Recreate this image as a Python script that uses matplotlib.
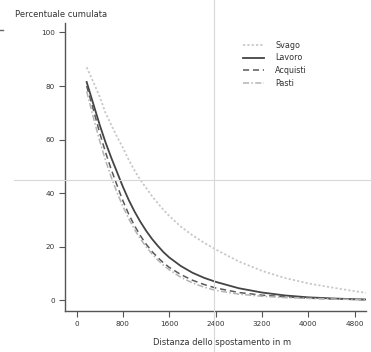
import numpy as np
import matplotlib
matplotlib.use("Agg")
import matplotlib.pyplot as plt
from matplotlib.lines import Line2D

# distanza dello spostamento (m)
DIST = [175, 300, 400, 500, 600, 700, 800, 900, 1000, 1100, 1200, 1300, 1400,
        1500, 1600, 1800, 2000, 2200, 2400, 2800, 3200, 3600, 4000, 4400, 4800, 5000]

# percentuale cumulata per motivo dello spostamento
SVAGO = [87.0, 81.0, 76.0, 70.0, 65.5, 61.0, 57.0, 52.5, 48.5, 45.0, 42.0, 39.0, 36.3,
         33.8, 31.5, 27.5, 24.3, 21.5, 19.0, 14.5, 11.0, 8.3, 6.3, 4.8, 3.4, 2.8]
LAVORO = [81.5, 72.6, 65.5, 59.0, 53.2, 47.8, 42.4, 37.5, 33.2, 29.4, 26.0, 23.0, 20.4,
          18.0, 16.0, 12.8, 10.3, 8.4, 6.9, 4.5, 2.9, 1.8, 1.1, 0.7, 0.4, 0.3]
ACQUISTI = [80.0, 70.5, 62.5, 55.3, 48.8, 42.9, 37.2, 32.2, 27.9, 24.2, 21.0, 18.3, 16.0,
            14.0, 12.3, 9.6, 7.5, 5.9, 4.6, 2.9, 1.9, 1.3, 0.8, 0.5, 0.3, 0.2]
PASTI = [78.0, 67.5, 59.5, 52.3, 45.9, 40.2, 35.1, 30.5, 26.5, 23.0, 20.0, 17.4, 15.1,
         13.1, 11.4, 8.6, 6.5, 4.9, 3.7, 2.3, 1.5, 1.0, 0.7, 0.5, 0.3, 0.2]

X_TICKS = [0, 800, 1600, 2400, 3200, 4000, 4800]
Y_TICKS = [0, 20, 40, 60, 80, 100]

AXIS_COLOR = "#555555"
FONT_TICK = 5.2
FONT_LABEL = 6.0
FONT_LEGEND = 5.8

fig = plt.figure(figsize=(3.71, 3.52), dpi=100)
ax = fig.add_axes([0.175, 0.1165, 0.812, 0.818])

series = [
    ("Svago", SVAGO, dict(color="#c8c8c8", linestyle=(0, (1.2, 1.2)), linewidth=1.3)),
    ("Lavoro", LAVORO, dict(color="#444444", linestyle="-", linewidth=1.3)),
    ("Acquisti", ACQUISTI, dict(color="#5a5a5a", linestyle=(0, (4, 2.5)), linewidth=1.1)),
    ("Pasti", PASTI, dict(color="#b4b4b4", linestyle=(0, (4, 1.5, 1, 1.5)), linewidth=1.1)),
]
for label, values, style in series:
    ax.plot(DIST, values, label=label, solid_joinstyle="round", **style)

ax.set_xlim(-200, 5000)
ax.set_ylim(-4, 103.5)
ax.set_xticks(X_TICKS)
ax.set_yticks(Y_TICKS)
ax.tick_params(axis="both", direction="out", length=4, width=0.8, color=AXIS_COLOR,
               labelsize=FONT_TICK, labelcolor="#333333", pad=3)

for side in ("top", "right"):
    ax.spines[side].set_visible(False)
for side in ("left", "bottom"):
    ax.spines[side].set_color(AXIS_COLOR)
    ax.spines[side].set_linewidth(1.0)

ax.set_xlabel("Distanza dello spostamento in m", fontsize=FONT_LABEL, color="#333333", va="center")
ax.xaxis.set_label_coords(0.52, -0.108)
ax.set_ylabel("Percentuale cumulata", fontsize=FONT_LABEL, color="#333333",
              rotation=0, ha="left", va="center")
ax.yaxis.set_label_coords(-0.166, 1.028)

ax.legend(loc="upper left", bbox_to_anchor=(0.655, 0.884), bbox_transform=fig.transFigure,
          frameon=False, fontsize=FONT_LEGEND, handlelength=2.6, handletextpad=1.4,
          labelspacing=0.45, borderpad=0, borderaxespad=0, labelcolor="#333333")

# thin guide lines crossing the whole figure
fig.add_artist(Line2D([14 / 371, 1.0], [1 - 180 / 352] * 2, transform=fig.transFigure,
                      color="#d8d8d8", linewidth=0.8))
fig.add_artist(Line2D([214 / 371] * 2, [0.0, 1.0], transform=fig.transFigure,
                      color="#d8d8d8", linewidth=0.8))
fig.add_artist(Line2D([0.0, 3 / 371], [1 - 30 / 352] * 2, transform=fig.transFigure,
                      color="#666666", linewidth=1.0))

fig.savefig("out.png", dpi=100)
